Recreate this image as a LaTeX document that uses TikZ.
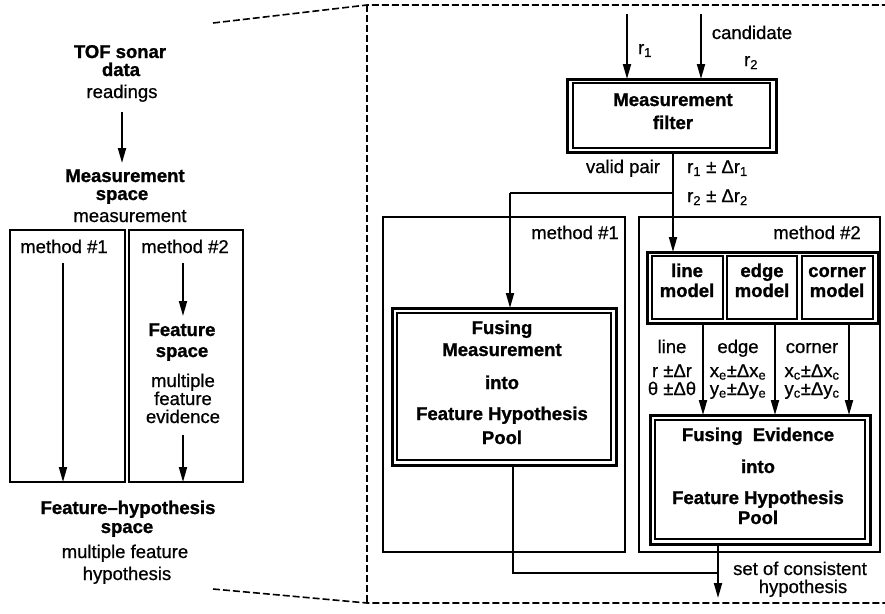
\documentclass[tikz,border=0pt]{standalone}
\usepackage{fontspec}
\setmainfont{Liberation Sans}[UprightFeatures={FakeBold=0.7},BoldFeatures={FakeBold=1.2}]
\usetikzlibrary{arrows.meta}
\begin{document}
\begin{tikzpicture}[x=1pt,y=-1pt,
  bt/.style={font=\fontsize{18.5}{19}\selectfont\bfseries,inner sep=0pt,anchor=base},
  rt/.style={font=\fontsize{18.5}{19}\selectfont,inner sep=0pt,anchor=base},
  rtl/.style={rt,anchor=base west},
  arr/.style={draw,line width=1.9pt,-{Triangle[length=15pt,width=8pt]}},
  ln/.style={draw,line width=1.9pt},
  thinbox/.style={draw,line width=1.2pt,outer sep=0pt,inner sep=0pt},
  modbox/.style={draw,line width=2pt,outer sep=0pt,inner sep=0pt},
  dbox/.style={draw,line width=3pt,outer sep=0pt,inner sep=0pt},
  dinner/.style={draw,line width=1.4pt},
  frame/.style={draw,line width=1.6pt,dash pattern=on 7pt off 3pt}]
\useasboundingbox (0,0) rectangle (885,613);

% ---------- dashed magnifier frame ----------
\coordinate (fA) at (213,23);
\coordinate (fB) at (367,5);
\coordinate (fC) at (885,5);
\coordinate (fD) at (213,589);
\coordinate (fE) at (367,603);
\coordinate (fF) at (885,603);
\draw[frame] (fA) -- (fB) -- (fC);
\draw[frame] (fB) -- (fE);
\draw[frame] (fD) -- (fE) -- (fF);

% ---------- left overview ----------
\node[bt] (tof1) at (120,58) {TOF sonar};
\node[bt] (tof2) at (121,76) {data};
\node[rt] (tof3) at (122,98) {readings};
\coordinate (a1s) at (122,112);
\coordinate (a1e) at (122,163);
\draw[arr] (a1s) -- (a1e);
\node[bt] (ms1) at (125,182) {Measurement};
\node[bt] (ms2) at (122,200) {space};
\node[rt] (ms3) at (130,222) {measurement};

\node[thinbox,minimum width=115pt,minimum height=252pt] (lb1) at (67.5,356) {};
\node[thinbox,minimum width=114pt,minimum height=252pt] (lb2) at (186,356) {};
\node[rt] (lm1) at (64,253) {method \#1};
\node[rt] (lm2) at (185,253) {method \#2};
\coordinate (l1s) at (63,263);
\draw[arr] (l1s) -- (l1s |- lb1.south);
\coordinate (l2s) at (183,263);
\coordinate (l2e) at (183,316);
\draw[arr] (l2s) -- (l2e);
\node[bt] (fs1) at (182,336) {Feature};
\node[bt] (fs2) at (182,357) {space};
\node[rt] (fs3) at (183,387) {multiple};
\node[rt] (fs4) at (183,405) {feature};
\node[rt] (fs5) at (183,423) {evidence};
\coordinate (l3s) at (183,435);
\draw[arr] (l3s) -- (l3s |- lb2.south);
\node[bt] (fh1) at (128,514) {Feature--hypothesis};
\node[bt] (fh2) at (127,533) {space};
\node[rt] (fh3) at (125,558) {multiple feature};
\node[rt] (fh4) at (127,580) {hypothesis};

% ---------- right detail ----------
\node[dbox,minimum width=209pt,minimum height=73pt] (filt) at (671.5,115.5) {};
\draw[dinner] ([xshift=6pt,yshift=-4pt]filt.north west) rectangle ([xshift=-6pt,yshift=4pt]filt.south east);
\node[bt] (ft1) at (673,106) {Measurement};
\node[bt] (ft2) at (673,129) {filter};

\coordinate (in1) at (627,14);
\coordinate (in2) at (701,14);
\draw[arr] (in1) -- (in1 |- filt.north);
\draw[arr] (in2) -- (in2 |- filt.north);
\node[rt] (r1l) at (645,54) {r\textsubscript{1}};
\node[rt] (cand) at (752,39) {candidate};
\node[rt] (r2l) at (751,66) {r\textsubscript{2}};

\node[thinbox,minimum width=242pt,minimum height=335pt] (m1) at (504,384.5) {};
\node[thinbox,minimum width=241pt,minimum height=335pt] (m2) at (759.5,384.5) {};
\node[rt] (m1l) at (575,239) {method \#1};
\node[rt] (m2l) at (817,239) {method \#2};

\node[dbox,minimum width=231pt,minimum height=71pt] (mods) at (762.5,287.5) {};
\node[modbox,minimum width=71pt,minimum height=63pt] (lmod) at (687.5,287.5) {};
\node[modbox,minimum width=70pt,minimum height=63pt] (emod) at (762,287.5) {};
\node[modbox,minimum width=71pt,minimum height=63pt] (cmod) at (837.5,287.5) {};
\node[bt] (lm1t) at (687,277) {line};
\node[bt] (lm2t) at (687,297) {model};
\node[bt] (em1t) at (762,277) {edge};
\node[bt] (em2t) at (762,297) {model};
\node[bt] (cm1t) at (837,277) {corner};
\node[bt] (cm2t) at (837,297) {model};

\coordinate (j1) at (673,193);
\coordinate (j2) at (510,193);
\draw[ln] (filt.south -| j1) -- (j1);
\draw[arr] (j1) -- (j1 |- mods.north);
\draw[ln] (j1) -- (j2);

\node[rt] (vp) at (623,173) {valid pair};
\node[rtl] (d1) at (687,173) {r\textsubscript{1} ± Δr\textsubscript{1}};
\node[rtl] (d2) at (687,202) {r\textsubscript{2} ± Δr\textsubscript{2}};

\node[dbox,minimum width=224pt,minimum height=157pt] (fm) at (504,386.5) {};
\draw[dinner] ([xshift=5pt,yshift=-5pt]fm.north west) rectangle ([xshift=-5pt,yshift=5pt]fm.south east);
\draw[arr] (j2) -- (j2 |- fm.north);
\node[bt] (fmt1) at (502,334) {Fusing};
\node[bt] (fmt2) at (502,356) {Measurement};
\node[bt] (fmt3) at (502,389) {into};
\node[bt] (fmt4) at (502,420) {Feature Hypothesis};
\node[bt] (fmt5) at (502,444) {Pool};

\node[dbox,minimum width=220pt,minimum height=129pt] (fe) at (760,479.5) {};
\draw[dinner] ([xshift=5pt,yshift=-5pt]fe.north west) rectangle ([xshift=-5pt,yshift=5pt]fe.south east);
\node[bt] (fet1) at (758,441) {Fusing\ \ Evidence};
\node[bt] (fet2) at (758,473) {into};
\node[bt] (fet3) at (758,504) {Feature Hypothesis};
\node[bt] (fet4) at (758,524) {Pool};

\coordinate (ma) at (703,0);
\coordinate (mb) at (775,0);
\coordinate (mc) at (849,0);
\draw[arr] (ma |- mods.south) -- (ma |- fe.north);
\draw[arr] (mb |- mods.south) -- (mb |- fe.north);
\draw[arr] (mc |- mods.south) -- (mc |- fe.north);

\node[rt] (la1) at (672,353) {line};
\node[rt] (la2) at (672,377) {r ±Δr};
\node[rt] (la3) at (672,395) {θ ±Δθ};
\node[rt] (ea1) at (738,353) {edge};
\node[rt] (ea2) at (738,377) {x\textsubscript{e}±Δx\textsubscript{e}};
\node[rt] (ea3) at (738,395) {y\textsubscript{e}±Δy\textsubscript{e}};
\node[rt] (ca1) at (812,353) {corner};
\node[rt] (ca2) at (812,377) {x\textsubscript{c}±Δx\textsubscript{c}};
\node[rt] (ca3) at (812,395) {y\textsubscript{c}±Δy\textsubscript{c}};

\coordinate (o1) at (718,598);
\coordinate (k1) at (513,573);
\coordinate (k2) at (718,573);
\draw[arr] (fe.south -| o1) -- (o1);
\draw[ln] (fm.south -| k1) -- (k1) -- (k2);
\node[rt] (sc1) at (800,575) {set of consistent};
\node[rt] (sc2) at (803,593) {hypothesis};
\end{tikzpicture}
\end{document}
